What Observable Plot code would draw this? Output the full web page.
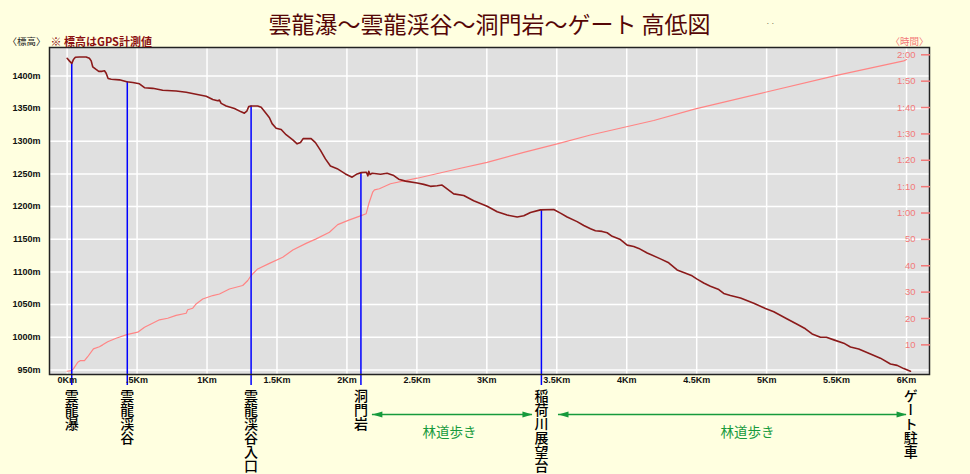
<!DOCTYPE html>
<html><head><meta charset="utf-8">
<script src="https://cdn.jsdelivr.net/npm/d3@7"></script>
<script src="https://cdn.jsdelivr.net/npm/@observablehq/plot@0.6"></script>
<style>
html,body{margin:0;padding:0;background:#ffffe0;}
#chart{width:970px;height:474px;overflow:hidden;}
</style></head><body><div id="chart"></div>
<script>
// ---- data ----
const title = "雲龍瀑～雲龍渓谷～洞門岩～ゲート 高低図";
const note = "※ 標高はGPS計測値";
const leftAxisTitle = "〈標高〉";
const rightAxisTitle = "〈時間〉";

const profileKm = [0.00,0.016,0.033,0.045,0.059,0.088,0.136,0.159,0.172,0.183,
  0.207,0.226,0.250,0.267,0.279,0.293,0.315,0.374,0.426,0.469,
  0.517,0.553,0.612,0.683,0.779,0.851,0.922,0.994,1.041,1.076,
  1.089,1.101,1.137,1.196,1.244,1.267,1.284,1.298,1.315,1.362,
  1.387,1.417,1.446,1.465,1.494,1.530,1.565,1.613,1.644,1.668,
  1.687,1.744,1.775,1.811,1.846,1.882,1.930,1.989,2.037,2.073,
  2.102,2.139,2.150,2.156,2.165,2.180,2.240,2.287,2.335,2.370,
  2.418,2.502,2.549,2.597,2.645,2.680,2.704,2.763,2.835,2.906,
  3.002,3.074,3.145,3.217,3.264,3.312,3.383,3.478,3.526,3.574,
  3.645,3.693,3.741,3.776,3.824,3.860,3.896,3.955,4.003,4.050,
  4.086,4.146,4.241,4.300,4.360,4.407,4.467,4.503,4.550,4.598,
  4.658,4.693,4.741,4.813,4.908,4.991,5.051,5.147,5.218,5.277,
  5.325,5.385,5.427,5.480,5.551,5.599,5.658,5.742,5.813,5.885,
  5.933,5.980,6.028];
const profileElev = [1427,1423,1419,1425,1428.5,1429,1429,1427,1423,1414,
  1410,1407,1407,1408,1404,1396,1395,1394,1391,1390,
  1388,1382,1381,1378,1377,1375,1372,1369,1364,1362,
  1363,1358,1354,1350,1345,1343,1346,1353,1354,1354,
  1352,1344,1336,1327,1320,1318,1310,1302,1296,1298,
  1304,1304,1298,1286,1273,1262,1258,1250,1245,1250,
  1252,1252.5,1247,1254,1249,1251,1249.5,1251,1247.5,1242,
  1239,1236,1234,1231,1232,1233,1229,1219.5,1217,1209,
  1200.5,1192,1187,1184,1186,1191,1195,1195.5,1190,1184,
  1177,1171,1166,1163,1162,1160,1154.5,1149.5,1141,1139,
  1136,1129,1120,1114,1103,1099,1094,1089,1083,1078,
  1073,1067,1064,1060,1052,1044,1039,1028,1020,1013,
  1005,1000,1000,996,991,985,982,974.5,968,959,
  957,952,948];

const timeKm = [0.0,0.029,0.045,0.076,0.093,0.124,0.147,0.188,0.231,0.254,
  0.290,0.350,0.426,0.505,0.553,0.600,0.660,0.719,0.779,0.851,
  0.862,0.898,0.922,0.969,1.041,1.089,1.160,1.255,1.291,1.315,
  1.362,1.446,1.541,1.613,1.708,1.780,1.875,1.934,2.018,2.102,
  2.137,2.156,2.184,2.197,2.232,2.311,2.502,2.788,3.002,3.264,
  3.503,3.741,4.193,4.491,4.991,5.492,5.980,6.0];
const timeMin = [0,0.2,0.9,3.4,4.0,4.0,5.5,8.5,9.3,10.0,
  11.2,12.5,13.9,14.8,16.7,17.9,19.5,20.1,21.2,22.0,
  23.3,23.9,25.5,27.4,28.7,29.3,31.2,32.5,34.4,36.3,
  38.8,40.9,43.2,46.0,48.5,50.2,52.7,55.6,57.4,59.0,
  59.7,63.5,67.9,68.8,69.2,71.1,73.2,76.7,79.2,83.0,
  86.2,89.6,95.1,99.5,105.8,112.1,117.7,118.2];

const waypointNames = ["雲龍瀑","雲龍渓谷","雲龍渓谷入口","洞門岩","稲荷川展望台","ゲート駐車"];
const waypointKm = [0.033, 0.43, 1.315, 2.10, 3.39, 6.03];
const waypointElev = [1419, 1391, 1354, 1252, 1195, null];

const xTickValues = [0,0.5,1,1.5,2,2.5,3,3.5,4,4.5,5,5.5,6];
const xTickLabels = ["0Km",".5Km","1Km","1.5Km","2Km","2.5Km","3Km","3.5Km","4Km","4.5Km","5Km","5.5Km","6Km"];
const elevTicks = [950,1000,1050,1100,1150,1200,1250,1300,1350,1400];
const timeTicks = [10,20,30,40,50,60,70,80,90,100,110,120];
const timeTickLabels = ["10","20","30","40","50","1:00","1:10","1:20","1:30","1:40","1:50","2:00"];

const trailFromKm = [2.182, 3.512];
const trailToKm = [3.326, 6.0];
const trailLabelKm = [2.733, 4.863];
const trailLabel = "林道歩き";

// ---- scales ----
const X_DOMAIN = [-0.126, 6.164];
const Y_DOMAIN = [943, 1443.5];
// secondary (time) axis expressed in elevation units
const timeToElev = t => 948 + t * 4.036;

const profile = profileKm.map((k, i) => ({km: k, elev: profileElev[i]}));
const timeline = timeKm.map((k, i) => ({km: k, elev: timeToElev(timeMin[i])}));
const waypoints = waypointNames.map((n, i) => ({name: n, km: waypointKm[i], elev: waypointElev[i]}));
const lineWaypoints = waypoints.filter(d => d.elev != null);
const trails = trailFromKm.map((f, i) => ({from: f, to: trailToKm[i], labelKm: trailLabelKm[i]}));
const timeTickData = timeTicks.map((t, i) => ({elev: timeToElev(t), label: timeTickLabels[i]}));

const GREEN = "#169a3c";
const SALMON = "#f27878";
const JP = "'Noto Sans CJK JP', 'Noto Sans', sans-serif";
const LAT = "'Liberation Sans', Arial, sans-serif";
const yBase = Y_DOMAIN[0];

const headRight = {draw(ctx) { ctx.moveTo(0, 0); ctx.lineTo(-10, -3); ctx.lineTo(-10, 3); ctx.closePath(); }};
const headLeft = {draw(ctx) { ctx.moveTo(0, 0); ctx.lineTo(10, -3); ctx.lineTo(10, 3); ctx.closePath(); }};

const plot = Plot.plot({
  width: 970, height: 474,
  marginLeft: 49, marginRight: 41, marginTop: 47, marginBottom: 100,
  style: {background: "transparent", overflow: "visible", fontFamily: LAT},
  x: {domain: X_DOMAIN, label: null},
  y: {domain: Y_DOMAIN, label: null},
  marks: [
    Plot.frame({fill: "#e0e0e0", stroke: null}),
    Plot.ruleX(xTickValues, {stroke: "white", strokeWidth: 1.5}),
    Plot.ruleY(elevTicks, {stroke: "white", strokeWidth: 1.5}),
    Plot.line(timeline, {x: "km", y: "elev", stroke: "#ff8585", strokeWidth: 1.2}),
    Plot.ruleX(lineWaypoints, {x: "km", y1: "elev", y2: yBase, stroke: "#0000ff", strokeWidth: 1.5, insetBottom: -11}),
    Plot.line(profile, {x: "km", y: "elev", stroke: "#8b1a1a", strokeWidth: 1.6}),
    Plot.frame({stroke: "#222", strokeWidth: 1.5}),
    Plot.axisY(elevTicks, {anchor: "left", tickSize: 0, tickPadding: 9, tickFormat: d => d + "m", fontSize: 9, fontWeight: "bold", fontFamily: LAT, fill: "#111", label: null}),
    Plot.axisX(xTickValues, {anchor: "bottom", tickSize: 0, tickPadding: 2, tickFormat: d => xTickLabels[xTickValues.indexOf(d)], fontSize: 9, fontWeight: "bold", fontFamily: LAT, fill: "#111", label: null}),
    Plot.axisY(timeTickData.map(d => d.elev), {anchor: "right", tickSize: 9, dx: -9, stroke: SALMON, strokeWidth: 1.5, fill: "none", label: null}),
    Plot.text(timeTickData, {y: "elev", text: "label", frameAnchor: "right", textAnchor: "end", dx: -14, fontSize: 9.5, fontFamily: LAT, fill: SALMON}),
    // titles
    Plot.text([title], {frameAnchor: "top", dy: -15, lineAnchor: "bottom", fontSize: 23, fontFamily: JP, fill: "#550606"}),
    Plot.text(["· ·"], {frameAnchor: "top-left", dx: 717, dy: -27, fontSize: 8, fill: "#333"}),
    Plot.text([leftAxisTitle], {frameAnchor: "top-left", dx: -23, dy: -6, textAnchor: "middle", lineAnchor: "middle", fontSize: 9.5, fontFamily: JP, fill: "#222"}),
    Plot.text([note], {frameAnchor: "top-left", dx: 1, dy: -5, textAnchor: "start", lineAnchor: "middle", fontSize: 11, fontWeight: "bold", fontFamily: JP, fill: "#8b1010"}),
    Plot.text([rightAxisTitle], {frameAnchor: "top-right", dx: -20, dy: -6, textAnchor: "middle", lineAnchor: "middle", fontSize: 9.5, fontFamily: JP, fill: SALMON}),
    // waypoint labels (vertical)
    Plot.text(waypoints, {x: "km", text: "name", frameAnchor: "bottom", dy: 14, textAnchor: "start", lineAnchor: "bottom", fontSize: 14, fontWeight: 500, fontFamily: JP, fill: "#000"}),
    // trail arrows
    Plot.ruleY(trails, {x1: "from", x2: "to", y: yBase, dy: 40, stroke: GREEN, strokeWidth: 1.5}),
    Plot.dot(trails, {x: "to", y: yBase, dy: 40, symbol: headRight, fill: GREEN, stroke: "none"}),
    Plot.dot(trails, {x: "from", y: yBase, dy: 40, symbol: headLeft, fill: GREEN, stroke: "none"}),
    Plot.text(trails, {x: "labelKm", text: () => trailLabel, frameAnchor: "bottom", dy: 62, fontSize: 13.5, fontFamily: JP, fill: GREEN})
  ]
});

d3.select(plot).selectAll("text")
  .filter(function() { return waypointNames.includes(this.textContent); })
  .style("writing-mode", "vertical-rl")
  .style("text-orientation", "mixed");

document.getElementById("chart").appendChild(plot);
</script>
</body></html>
